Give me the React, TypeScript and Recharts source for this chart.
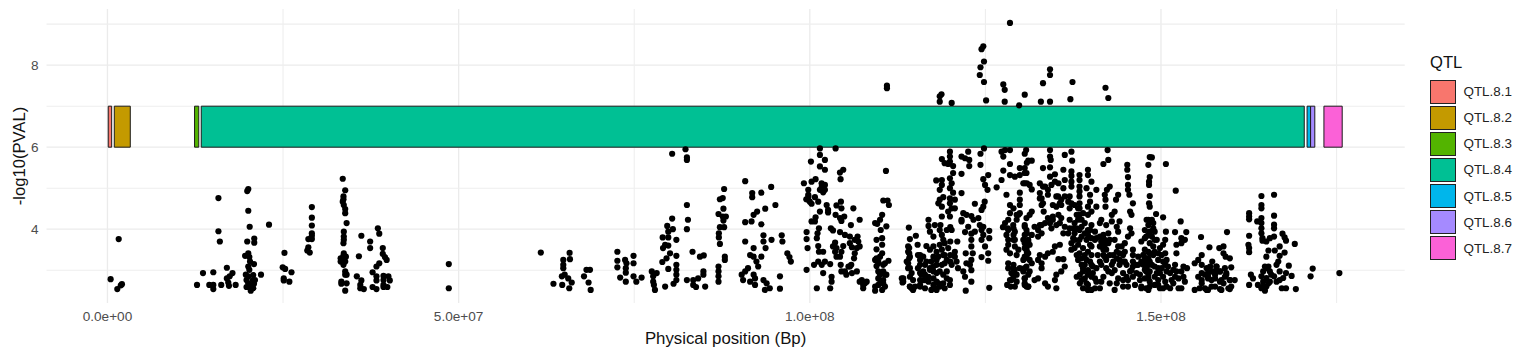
import { CartesianGrid, ReferenceArea, Scatter, ScatterChart, XAxis, YAxis } from "recharts";

const start: number[][] = [[0.45,2.78],[1.6,3.76],[1.4,2.54],[2.06,2.66],[1.9,2.63],[12.75,2.64],[13.6,2.93],[15.07,2.95],[14.5,2.64],[15.07,2.64],[15.07,2.54],[16.2,2.64],[15.8,4.76],[15.8,3.95],[16,3.7],[17,3.06],[17.8,2.93],[17,2.8],[17.4,2.85],[17.2,2.7],[17.3,2.62],[18.25,2.64],[20.05,4.98],[19.9,4.93],[20.05,4.45],[20.25,4.06],[19.9,3.7],[20.9,3.77],[20.9,3.67],[19.6,3.35],[20.05,3.41],[20.2,3.32],[20.3,3.21],[20.86,3.15],[20.05,3.09],[20.2,3.01],[19.7,2.89],[20.05,2.85],[20.76,2.88],[21.86,2.89],[19.8,2.76],[20.7,2.76],[21,2.76],[20.05,2.68],[20.86,2.67],[19.8,2.59],[20.3,2.6],[20.4,2.5],[20.76,2.56],[23,4.11],[25.2,3.42],[24.95,3.07],[25.3,3.03],[26.2,2.95],[25.1,2.8],[25.1,2.75],[25.9,2.72]];
const mb29to40: number[][] = [[29.1,4.54],[29.1,4.28],[29.1,4.09],[29.1,3.9],[29.1,3.84],[28.6,3.76],[29.1,3.76],[28.6,3.56],[28.45,3.48],[28.8,3.43],[33.5,5.23],[33.85,4.95],[33.6,4.8],[33.6,4.73],[33.5,4.67],[33.65,4.59],[33.85,4.49],[33.85,4.39],[34.05,4.15],[33.65,3.94],[33.65,3.82],[33.65,3.74],[33.6,3.66],[33.65,3.41],[33.6,3.35],[33.95,3.33],[33.2,3.29],[33.6,3.24],[33.2,3.21],[33.85,3.21],[33.6,3.13],[33.85,2.97],[33.85,2.89],[34.05,2.89],[33.3,2.72],[33.3,2.67],[34.05,2.68],[33.85,2.5],[36.15,3.84],[35.8,3.34],[35.5,2.85],[36.15,2.75],[36,2.64],[36,2.56],[36.5,2.54],[37.4,3.7],[37.4,3.54],[38.5,4.02],[38.7,3.89],[39.2,3.54],[39.2,3.4],[39.5,3.32],[39.75,3.25],[38.7,3.17],[38.3,3.09],[37.75,2.95],[38.3,2.85],[39.3,2.86],[40,2.85],[38.3,2.75],[39.3,2.76],[40.2,2.75],[39.3,2.64],[37.75,2.59],[38.3,2.54],[39.3,2.59],[39.85,2.59],[48.6,3.15],[48.6,2.56]];
const mb60to79: number[][] = [[61.7,3.43],[65.8,3.42],[64.9,3.25],[65.85,3.27],[64.9,3.13],[64.9,3.05],[64.7,2.85],[65.1,2.89],[65.6,2.8],[66.1,2.7],[63.5,2.67],[64.75,2.64],[65.75,2.56],[67.85,2.85],[68.2,3.01],[68.7,3.01],[68.5,2.7],[68.8,2.52],[72.6,3.45],[72.6,3.23],[72.6,3.07],[73.7,3.25],[73.9,3.17],[74.9,3.35],[74.9,3.17],[73.8,3.05],[73.8,2.94],[73,2.82],[73.8,2.72],[74.9,2.85],[75.3,2.72],[76.05,2.82],[77.5,2.97],[78.2,2.93],[77.7,2.85],[77.7,2.72],[77.8,2.64],[77.95,2.52],[79.4,2.6]];
const mb79to97: number[][] = [[80.4,4.26],[79.7,4.08],[80.5,4],[79.85,3.94],[79.05,3.8],[79.85,3.8],[81,3.74],[79.4,3.62],[79.1,3.54],[79.85,3.6],[80.1,3.41],[81,3.35],[79.6,3.29],[79,3.2],[81,3.13],[79.85,3.03],[81,3.01],[81,2.89],[81,2.76],[80.6,2.67],[80.4,5.84],[82.3,5.95],[82.5,5.69],[82.5,5.75],[82.5,4.59],[82.65,4.23],[82.5,4],[83.3,3.45],[84.35,3.33],[84.9,3.36],[84.85,2.97],[84.85,2.89],[82.5,2.76],[83.4,2.76],[84.1,2.8],[83.4,2.64],[83.8,2.59],[85.1,2.6],[87,3.09],[87,2.97],[87,2.85],[87,2.72],[87.8,4.98],[87.2,4.73],[87.6,4.76],[87.7,4.5],[87,4.37],[87.6,4.31],[88.05,4.31],[87.7,4.21],[87.2,4.05],[87.8,4.05],[87.05,3.9],[87.05,3.8],[87.2,3.64],[87.9,3.33],[87.9,3.25],[90.8,5.17],[91.8,4.88],[91.8,4.78],[93.1,4.89],[94.5,5.03],[95.1,4.59],[93.65,4.5],[92.5,4.43],[92,4.35],[91.7,4.19],[90.8,4.17],[93.1,4.12],[90.8,3.7],[93.4,3.85],[94.55,3.74],[96,3.85],[96.1,3.7],[93.4,3.7],[93.7,3.54],[92,3.54],[91.5,3.37],[92,3.33],[93.1,3.33],[92.4,3.21],[92.65,3.09],[96.8,3.41],[97.1,3.32],[97.3,3.21],[91.2,3.05],[90.8,2.97],[90.3,2.89],[90.5,2.76],[92,2.89],[92.2,2.8],[91.5,2.72],[92.2,2.64],[93.4,2.76],[93.85,2.68],[93.6,2.52],[94.3,2.56],[95.75,2.85],[95.75,2.55]];
const mb99to112: number[][] = [[101.44,5.97],[103.67,5.97],[101.44,5.81],[102.15,5.69],[100.16,5.65],[101.44,5.53],[102.15,5.45],[104.76,5.45],[104.29,5.38],[104.38,5.22],[110.84,5.42],[100.82,5.22],[100.25,5.16],[99.16,5.12],[99.78,4.96],[101.68,5.12],[101.44,4.96],[102.15,4.96],[101.9,4.9],[99.78,4.84],[99.78,4.72],[100.73,4.78],[101.2,4.67],[100.25,4.62],[102.4,4.59],[102.6,4.47],[102.6,4.41],[101.44,4.43],[100.82,4.29],[100.25,4.19],[100.73,4.19],[104.43,4.67],[103.8,4.58],[104.5,4.51],[103.67,4.35],[104.3,4.27],[104.9,4.31],[104.5,4.2],[106.2,4.51],[107.1,4.23],[105.85,4.1],[110.46,4.7],[111.07,4.7],[111.26,4.59],[110.3,4.35],[110,4.23],[109.6,4.13],[110.9,4.07],[110.1,3.98],[99.54,3.93],[99.54,3.76],[99.68,3.54],[101.3,4.02],[101.1,3.9],[101,3.78],[103,4.02],[103.3,3.97],[104.3,3.93],[105,3.86],[103.6,3.67],[103.3,3.58],[103.6,3.45],[103.8,3.33],[104.76,3.59],[104.5,3.45],[104.3,3.33],[101.2,3.59],[101.3,3.45],[101.9,3.45],[105.7,3.82],[105.7,3.66],[106,3.56],[107.1,3.58],[106.8,3.82],[106.9,3.7],[106.4,3.41],[106.3,3.29],[105.9,3.13],[101.2,3.21],[102.15,3.21],[102.9,3.15],[100.6,3.13],[101.7,3.13],[99.54,3.01],[104.4,3.13],[101.9,2.93],[103.1,2.84],[103.1,2.72],[102.9,2.56],[101,2.56],[104.5,2.97],[105.2,2.89],[106,2.93],[106.7,2.97],[105.5,3.09],[107.4,2.76],[107.85,2.68],[107.6,2.56],[108.1,2.72],[109.3,4.15],[110.3,3.78],[110.3,3.62],[109.5,3.74],[109.5,3.51],[110.3,3.41],[109.5,3.29],[109.75,3.21],[109.5,3.1],[110.45,3.13],[111.2,3.23],[109.75,2.97],[110.45,2.97],[110.9,2.89],[109.75,2.8],[110.45,2.76],[109.75,2.64],[110.45,2.68],[109.3,2.5],[110.3,2.52]];
const mb113to126: number[][] = [[114.1,4.04],[115.1,3.84],[114.25,3.76],[115.35,3.62],[114.15,3.54],[114.15,3.41],[114.15,3.29],[113.8,3.21],[113.3,2.8],[113.2,2.7],[114,3.05],[114.25,2.84],[114.25,2.6],[114.7,2.52],[115,2.6],[115.7,3.37],[115.7,3.25],[116.15,3.33],[115.4,3.05],[116.15,2.97],[115.7,2.76],[116.4,2.76],[116.4,2.56],[116.9,4.23],[116.9,4.08],[117.1,3.94],[117.6,3.82],[117.8,4.1],[118.6,4.1],[118.5,3.98],[118.8,3.86],[120,4.05],[119.5,3.98],[120.2,3.98],[119,3.74],[119.2,3.66],[118.5,3.62],[117.6,3.58],[120,3.7],[121,3.7],[116.6,3.59],[117.1,3.5],[118.05,3.45],[119.2,3.37],[118.3,3.33],[119.7,3.54],[120.65,3.45],[120,3.37],[120.65,3.33],[120,3.21],[120.9,3.21],[120.2,3.13],[117.3,3.21],[118.05,3.13],[117.1,3.05],[117.6,2.97],[118.8,3.13],[118.5,2.97],[119,2.89],[116.9,2.84],[117.6,2.8],[118.05,2.72],[117.6,2.64],[117.3,2.52],[118.05,2.52],[119,2.68],[119.2,2.56],[119.95,2.64],[118.5,2.6],[121.1,3.05],[121.85,2.97],[122.1,2.84],[123,2.72],[122.2,2.5],[119.95,5.89],[119.95,5.77],[118.8,5.71],[119.95,5.65],[119.7,5.59],[120.4,5.54],[119.2,5.61],[121.6,5.77],[122.55,5.89],[122.1,5.73],[122.7,5.69],[122.7,5.54],[124.3,5.84],[124.3,5.57],[124.8,5.97],[121.6,5.35],[120.4,5.37],[119.95,5.24],[118.8,5.2],[118,5.19],[118.8,5.08],[118.5,4.96],[120.2,5.12],[119.95,5],[120.4,4.89],[121.6,4.88],[119,4.78],[118.5,4.72],[118.3,4.63],[118.8,4.55],[119.95,4.75],[120.65,4.72],[119.95,4.63],[120.2,4.51],[119.7,4.43],[120.65,4.51],[118.8,4.31],[119.95,4.31],[125.4,5.32],[124.7,5.22],[124.95,5.08],[125.3,4.96],[126.6,5.02],[123.5,4.62],[124.9,4.67],[124.7,4.55],[124.45,4.47],[121.85,4.39],[121.6,4.23],[122.3,4.35],[123,4.32],[123.3,4.23],[124,4.27],[124.2,4.1],[121.6,4.19],[122.55,4.06],[122.1,3.93],[123.5,3.94],[123,3.89],[124.7,4.06],[124.45,3.98],[124.7,3.86],[125.55,3.96],[125.55,3.78],[122.2,3.41],[123,3.74],[123,3.58],[123.2,3.41],[123,3.25],[122.8,3.13],[122.3,3.17],[123,3],[124.45,3.74],[124.95,3.58],[125.4,3.41],[124.45,3.32],[125.4,3.23],[125.55,2.57]];
const mb127to131: number[][] = [[127.3,5.89],[127.8,5.93],[127.55,5.77],[128.5,5.93],[128.5,5.59],[127.55,5.43],[129.9,5.49],[130.9,5.62],[130.8,5.93],[127.3,5.2],[128.5,5.32],[129.2,5.28],[129.9,5.32],[130.6,5.37],[130.9,5.12],[130.4,5.12],[128,4.84],[129.9,4.89],[129.9,4.72],[129.9,4.59],[128.5,4.59],[129,4.51],[128.5,4.39],[129.7,4.35],[129.45,4.23],[128.96,4.1],[128.25,4.23],[127.8,4.15],[127.5,4.05],[128.25,3.98],[129.2,3.94],[128,3.86],[129,3.74],[128.25,3.62],[128,3.5],[129.2,3.58],[130.6,4.06],[130.9,3.9],[131.1,3.7],[130.4,3.74],[129.7,3.5],[129.45,3.37],[130.9,3.58],[130.9,3.37],[128.25,3.17],[129,3.13],[129.2,3.01],[128.7,2.93],[129.9,3.05],[128.5,2.76],[128.1,2.64],[129,2.84],[129.45,2.72],[130.6,2.8],[128.6,2.6],[130.6,2.64],[131.1,2.6]];
const mb130to148: number[][] = [[130.6,5.84],[131.1,5.67],[131.6,5.67],[130.6,5.49],[130.85,5.37],[130.6,5.12],[131.3,5.08],[131.6,4.97],[133.2,5.49],[134.2,5.51],[134.2,5.28],[134.9,5.34],[134.2,5.93],[134.2,5.77],[134.3,5.69],[136.3,5.81],[137.25,5.89],[137.35,5.67],[136.1,5.45],[137.25,5.41],[137.25,5.3],[138.4,5.32],[139.6,5.45],[139.6,5.32],[140.1,5.16],[142.4,5.93],[142.5,5.69],[141.8,5.59],[145.2,5.57],[145.2,5.45],[145.3,5.27],[145.3,5.08],[145.3,4.96],[145.5,4.84],[146,4.63],[145.6,4.43],[145.8,4.35],[132.75,5.12],[133.2,5.04],[132.75,4.88],[133,4.75],[133.2,4.63],[133.9,4.96],[133.9,4.84],[134.4,5.08],[134.9,5.16],[135.4,5.12],[136.3,5.2],[136.1,5],[136.3,4.8],[137,4.8],[135.6,4.63],[135.8,4.59],[137.25,5.16],[137.25,5.04],[138.4,5.2],[138.4,5.04],[138.4,4.92],[138.4,4.8],[139.4,5],[139.9,4.84],[139.9,4.67],[139.6,4.55],[140.8,4.96],[140.8,4.55],[142,4.84],[142.7,5.04],[142.3,4.96],[142.1,4.72],[142.1,4.55],[143.9,4.84],[143.6,4.72],[135.1,4.8],[134.6,4.59],[135.1,4.55],[137.25,4.63],[137,4.51],[138.2,4.51],[138.4,4.35],[133.3,4.43],[131.6,4.43],[130.85,4.27],[131.3,4.35],[134.6,4.31],[135.4,4.35],[135.8,4.27],[133.9,4.27],[133.5,4.15],[132.75,4.1],[132.5,3.98],[132.5,3.82],[133,3.9],[135.1,4.1],[134.4,4.02],[137,4.23],[137.7,4.15],[137.5,4.02],[138,4.35],[137.7,3.9],[136.8,3.9],[138.7,4.23],[139.15,4.15],[138.7,4.06],[139.6,3.86],[138.7,3.82],[140.1,4.1],[140.6,3.94],[140.1,3.78],[139.6,3.98],[141.5,4.23],[141.3,4.15],[143.4,4.43],[143,4.35],[142.2,4.1],[143,4.19],[143.7,4.06],[141.8,3.86],[142.5,3.9],[142,3.74],[142.7,3.74],[142,3.62],[141.8,3.5],[144.1,4.19],[143.9,3.94],[143.4,3.74],[143.9,3.58],[144.85,3.66],[145.6,4.02],[145.8,3.9],[145.3,3.82],[147.2,3.7],[148.2,4.23],[148.2,4.1],[147.7,3.98],[147.9,3.82]];
const mb130low: number[][] = [[130.6,4.1],[130.85,3.98],[130.6,3.86],[131.1,3.74],[131.6,3.86],[131.3,3.62],[130.6,3.54],[131.1,3.41],[130.6,3.33],[131.3,3.25],[130.85,3.09],[131.6,3.17],[130.4,2.97],[131.1,2.89],[132.75,3.37],[132.5,3.25],[133,3.05],[133.5,3.33],[133.9,3.41],[134.6,3.45],[134.9,3.58],[135.6,3.62],[133,3.17],[135.4,3.27],[136.1,3.27],[136.3,3.09],[135.8,2.97],[135.1,2.89],[134.9,2.76],[135.1,2.56],[130.6,2.8],[130.85,2.6],[132,2.76],[132.5,2.8],[133.5,2.68],[133.9,2.6],[137.7,3.74],[137.25,3.66],[138.2,3.62],[138.4,3.41],[138.7,3.29],[137.7,3.54],[139.4,3.74],[139.9,3.62],[139.6,3.45],[140.1,3.37],[139.9,3.21],[139.15,3.13],[140.8,3.78],[141.3,3.82],[141.5,3.7],[141.3,3.58],[141,3.37],[141.8,3.37],[142.2,3.25],[141.5,3.13],[143.2,3.37],[143.7,3.45],[144.6,3.37],[144.4,3.58],[144.85,3.21],[144.1,3.25],[143.2,3.21],[146,3.5],[146,3.37],[146,3.21],[146.5,3.13],[145.8,3],[146.75,3.33],[147.5,3.37],[148.2,3.45],[138.7,3.13],[138.9,2.97],[139.6,3],[140.3,3.09],[138,2.84],[138.7,2.76],[139.15,2.8],[140.1,2.84],[140.6,2.8],[138.9,2.56],[139.6,2.64],[140.1,2.52],[141.3,2.56],[141.8,2.84],[141.5,2.72],[142.2,3.05],[143,3.13],[142.5,2.97],[143.4,3],[142.7,2.68],[143.7,2.68],[143.4,2.52],[144.6,2.93],[145.1,2.84],[144.6,2.76],[145.3,2.76],[144.6,2.6],[145.3,2.6],[146,2.84],[147,2.89],[147.9,2.97],[147.2,2.56],[147.9,2.56],[146.75,3.13],[147.5,3.13],[147.9,3.17]];
const mb147to161: number[][] = [[148.7,5.75],[148.2,5.57],[150.7,5.59],[148.4,5.27],[148.3,5.16],[148.3,5.08],[152.1,4.94],[148.4,4.81],[148.3,4.63],[148.4,4.55],[149.3,4.37],[150.3,4.29],[147.95,4.23],[148.4,4.19],[148.7,4.23],[152.8,4.19],[148.9,4.02],[148.4,3.94],[149.1,3.94],[150.7,3.94],[152,3.93],[153.6,3.93],[147.7,3.78],[148.7,3.82],[149.4,3.74],[150.6,3.74],[152.9,3.78],[153.4,3.74],[152.9,3.66],[152.2,3.62],[150.3,3.62],[152.2,3.41],[155.7,3.81],[156.9,3.56],[159.4,3.93],[158.3,3.54],[158.9,3.58],[158.9,3.41],[159.2,3.33],[159.8,3.29],[155.8,3.37],[155.3,3.25],[154.8,3.17],[155.8,3.13],[157.3,3.21],[157,3.09],[157.9,3.09],[156.5,3.05],[160,3.07],[159.1,3.05],[147.7,3.5],[148.4,3.41],[149.1,3.45],[150.1,3.37],[150.6,3.41],[147.7,3.25],[148.4,3.21],[149.6,3.25],[150.3,3.21],[150.8,3.25],[147.95,3.05],[149.1,3.09],[150.1,3.05],[151,3.09],[152,3.13],[153.2,3.09],[153.7,3.05],[148.2,2.89],[149.4,2.93],[150.3,2.84],[151.3,2.93],[152.2,2.97],[152.9,2.97],[153.2,2.84],[152.5,2.8],[147.2,2.6],[148.2,2.52],[149.1,2.64],[149.85,2.56],[150.8,2.6],[151.75,2.68],[152.9,2.56],[148.4,2.72],[149.6,2.76],[150.6,2.72],[151.5,2.76],[153.4,2.72],[154.8,2.52],[155.3,2.84],[155.8,2.68],[156.7,2.93],[157.4,2.97],[156.7,2.8],[156.25,2.89],[156.7,2.52],[157.7,2.6],[158.6,2.52],[159.6,2.56],[158.4,2.72],[159.1,2.84],[159.8,2.76],[160.5,2.76],[157.7,2.8],[158.4,2.97],[159.3,2.89]];
const mb162to176: number[][] = [[164.3,4.81],[166.1,4.84],[164.3,4.59],[164.3,4.51],[162.55,4.39],[162.55,4.31],[162.55,4.24],[166.1,4.33],[164.3,4.27],[163.7,4.19],[164.3,4.15],[166.1,4.11],[166.1,4.02],[164.3,4.02],[164.3,3.9],[162.55,3.84],[164.45,3.78],[165.5,3.78],[166.1,3.82],[165,3.7],[164.45,3.72],[167.3,3.89],[167.6,3.8],[167.8,3.72],[169.05,3.64],[162.45,3.62],[162.55,3.54],[162.55,3.44],[166.9,3.58],[165.3,3.48],[165,3.33],[166.2,3.48],[167.6,3.43],[166.9,3.35],[166.7,3.21],[166.45,3.13],[168.2,3.11],[165.3,3.09],[164.8,3.09],[165.5,2.97],[164.55,2.97],[162.8,2.89],[163.1,2.8],[162.55,2.64],[164.3,2.85],[164.55,2.72],[163.8,2.64],[164.3,2.56],[165,2.6],[164.8,2.5],[165.5,2.72],[166.1,2.85],[166.9,2.97],[166.9,2.76],[167.8,2.93],[167.4,2.81],[168.6,2.86],[167.2,2.56],[167.8,2.56],[169.2,2.54],[171.6,3.04],[171.3,2.85],[175.4,2.93]];
const aboveBand: number[][] = [[128.5,9.03],[124.7,8.46],[124.45,8.39],[124.8,8.09],[124.3,7.95],[124.2,7.76],[124.8,7.59],[125.1,7.14],[118.75,7.29],[118.5,7.24],[118.5,7.11],[120.2,7.08],[127.55,7.53],[127.75,7.4],[127.75,7.11],[130.6,7.28],[132.9,7.11],[134.2,7.9],[134.2,7.76],[133.2,7.56],[134.2,7.11],[137.4,7.59],[137.1,7.17],[142.1,7.45],[142.5,7.2],[129.8,7.02],[110.98,7.5],[110.98,7.44],[148.4,5.76]];
// second pass over the solid black patches, where single dots merge
const blob114to131: number[][] = [[115.9,2.89],[116.9,2.72],[115.7,2.64],[114.5,2.56],[117.1,3.01],[118.05,2.93],[118.3,2.68],[119.5,2.8],[119.5,2.97],[119.95,2.76],[117.85,2.56],[116.4,2.89],[116.4,3.13],[116.6,3.21],[115.7,3.13],[117.6,3.33],[118.8,3.5],[119,3.37],[119.5,3.25],[118.05,3.25],[117.6,3.09],[119.2,3.17],[128.2,4.02],[129,4.02],[129.45,4.35],[129.9,4.39],[128.25,3.74],[129,3.86],[128.5,3.41],[129.2,3.74],[129,3.05],[129.45,2.89],[128.7,2.76],[129.2,2.6],[128.25,3.05],[130.9,3.45],[130.6,3.29],[114,3.58],[114,3.45],[114.25,3.33],[114,3.17],[114.25,3.05],[114.5,2.93],[114.7,2.76],[114.25,2.6],[114.7,2.56],[115.4,3.37],[115.7,2.93],[116.15,2.76],[115.7,2.6],[113.1,2.8],[113.3,2.72]];
const blob130to148: number[][] = [[138.4,3.74],[138.9,3.54],[139.15,3.37],[138.2,3.25],[139.4,3.25],[140.1,3.13],[138.9,3.05],[139.6,2.89],[138.45,2.89],[140.3,2.93],[140.8,3.05],[141.8,3.74],[141.5,3.58],[142.2,3.5],[142.5,3.66],[142,3.33],[141.3,3.21],[142.7,3.37],[144.1,3.41],[143.7,3.29],[144.85,3.45],[144.6,3.21],[145.1,3.13],[144.1,3.13],[143,2.93],[143.9,2.8],[138.4,3.98],[139.15,3.9],[138,4.02],[138.2,4.23],[139.9,3.98],[140.6,3.74],[140.1,3.58],[138.45,2.68],[139.4,2.68],[140.8,2.72],[140.6,2.56],[139.6,2.52],[135.6,4.15],[134.6,4.23],[134.2,4.15],[133,4.1],[132,4.06],[136.3,4.06],[137,4.02],[136.1,3.9],[137.5,3.78],[137.25,3.5],[138,3.37],[132.75,4.75],[133,4.59],[133.5,5.04],[135.35,4.8],[135.8,4.72],[136.8,4.67],[137.7,4.59],[138.4,4.63],[138.4,4.51],[138.9,4.39],[139.6,4.35],[140.1,4.43],[130.6,3.66],[130.85,3.5],[130.4,3.25],[130.6,3.05],[131.3,2.97],[130.6,2.68],[131.1,2.6],[146,3.09],[146.5,2.93],[147,2.76],[146.3,2.64],[145.6,2.97],[147.7,3.01],[148.2,2.8],[148.2,3.13],[147.2,3.21],[147.9,3.29]];
const blob148to168: number[][] = [[147.5,3.37],[148.2,3.29],[148.9,3.37],[149.6,3.41],[148.7,3.13],[149.6,3.05],[150.6,3.13],[148.4,2.97],[149.1,2.84],[149.85,2.93],[150.8,2.97],[147.7,2.8],[148.4,2.6],[149.6,2.64],[150.3,2.56],[151.3,2.56],[152,2.84],[152.5,2.56],[151.75,3.01],[148.9,3.58],[149.85,3.54],[148.4,3.66],[149.1,3.74],[148.2,3.86],[148.9,4.15],[155.8,2.93],[157.2,2.76],[157.2,2.6],[158.9,2.68],[160,2.6],[156.25,2.56],[155.5,2.56],[157.9,2.97],[165,3.05],[165.7,2.89],[165,2.81],[164.55,2.6],[165.3,2.68],[166.45,2.72],[157.2,2.97],[157.9,3.09],[156.7,2.85],[157.7,2.89],[158.4,2.97],[159.3,2.93],[158.6,2.76],[159.8,2.76],[156.5,2.52],[158.4,2.54],[159.8,2.54],[155.8,2.76]];
const blob100to111: number[][] = [[109.75,3.17],[110,3.33],[110.7,3.17],[109.3,3.25],[110.7,2.89],[110,2.89],[110,2.68],[110.7,2.6],[109.3,2.6],[103.8,3.54],[106.4,3.74],[106.7,3.54],[105.7,3.09],[105,2.97],[99.8,4.8],[100,4.67],[99.5,4.73],[101.7,5.04],[102.15,5.08],[107.6,2.64],[107.1,2.72]];

const points = [start, mb29to40, mb60to79, mb79to97, mb99to112, mb113to126, mb127to131, mb130to148, mb130low, mb147to161, mb162to176, aboveBand, blob114to131, blob130to148, blob148to168, blob100to111]
  .flat()
  .map(([mb, pval]) => ({ pos: mb * 1e6, pval }));

const qtlNames = ["QTL.8.1", "QTL.8.2", "QTL.8.3", "QTL.8.4", "QTL.8.5", "QTL.8.6", "QTL.8.7"];
const qtlColors = ["#F8766D", "#C49A00", "#53B400", "#00C094", "#00B6EB", "#A58AFF", "#FB61D7"];
const qtlStart = [0.11e6, 0.97e6, 12.4e6, 13.35e6, 170.8e6, 171.3e6, 173.2e6];
const qtlEnd = [0.6e6, 3.25e6, 13.0e6, 170.4e6, 171.3e6, 171.9e6, 175.8e6];

const xTicks = [0, 5e7, 1e8, 1.5e8];
const xTickLabels = ["0.0e+00", "5.0e+07", "1.0e+08", "1.5e+08"];
const xMinor = [2.5e7, 7.5e7, 1.25e8, 1.75e8];
const yTicks = [4, 6, 8];
const yMinor = [3, 5, 7, 9];

const font = "'Liberation Sans', Arial, sans-serif";

function Dot({ cx, cy }: { cx?: number; cy?: number }) {
  return <circle cx={cx} cy={cy} r={3.1} fill="#000" />;
}

function QtlLegend() {
  return (
    <div style={{ position: "absolute", left: 1430, top: 53, fontFamily: font, color: "#111" }}>
      <div style={{ fontSize: 16.6, lineHeight: "19px", height: 25.6 }}>QTL</div>
      {qtlNames.map((name, i) => (
        <div key={name} style={{ display: "flex", alignItems: "center", height: 26.1 }}>
          <div
            style={{
              width: 25.5,
              height: 24,
              boxSizing: "border-box",
              background: qtlColors[i],
              border: "1px solid #222",
            }}
          />
          <span style={{ marginLeft: 8, fontSize: 13.4, color: "#222" }}>{name}</span>
        </div>
      ))}
    </div>
  );
}

export default function App() {
  return (
    <div style={{ position: "absolute", left: 0, top: 0, width: 1531, height: 356, background: "#fff" }}>
      <ScatterChart width={1531} height={356} margin={{ top: 9, right: 126.3, bottom: 0, left: 0 }}>
        <CartesianGrid stroke="#ebebeb" strokeWidth={1.3} horizontalValues={yTicks} verticalValues={xTicks} />
        <CartesianGrid stroke="#eeeeee" strokeWidth={1.1} horizontalValues={yMinor} verticalValues={xMinor} />
        <XAxis
          type="number"
          dataKey="pos"
          domain={[-8.68e6, 184.7e6]}
          allowDataOverflow
          ticks={xTicks}
          tickFormatter={(v: number) => xTickLabels[xTicks.indexOf(v)]}
          tickLine={false}
          axisLine={false}
          height={53}
          tick={{ fill: "#4d4d4d", fontSize: 13.6, fontFamily: font }}
          label={{
            value: "Physical position (Bp)",
            position: "insideBottom",
            offset: 12,
            fill: "#111",
            fontSize: 16.8,
            fontFamily: font,
          }}
        />
        <YAxis
          type="number"
          dataKey="pval"
          domain={[2.2, 9.37]}
          allowDataOverflow
          ticks={yTicks}
          tickLine={false}
          axisLine={false}
          width={46.5}
          tick={{ fill: "#4d4d4d", fontSize: 13.6, fontFamily: font }}
          label={{
            value: "-log10(PVAL)",
            angle: -90,
            position: "insideLeft",
            offset: 19,
            style: { textAnchor: "middle" },
            fill: "#111",
            fontSize: 16.6,
            fontFamily: font,
          }}
        />
        <Scatter data={points} shape={Dot} isAnimationActive={false} />
        {qtlNames.map((name, i) => (
          <ReferenceArea
            key={name}
            x1={qtlStart[i]}
            x2={qtlEnd[i]}
            y1={6}
            y2={7}
            fill={qtlColors[i]}
            fillOpacity={1}
            stroke="#1a1a1a"
            strokeWidth={1}
          />
        ))}
      </ScatterChart>
      <QtlLegend />
    </div>
  );
}
